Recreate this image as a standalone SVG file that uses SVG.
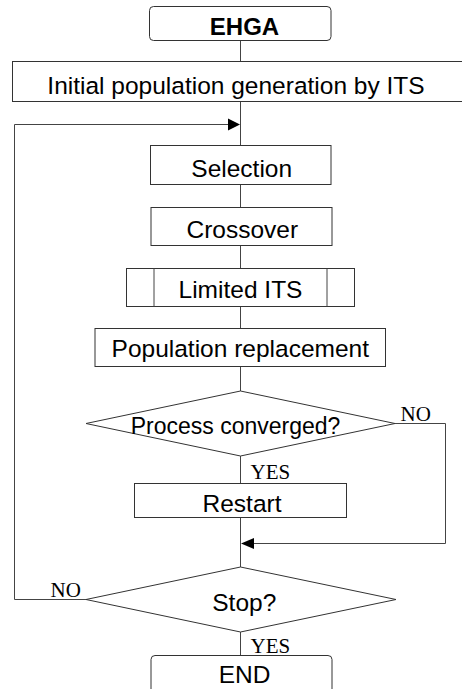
<svg xmlns="http://www.w3.org/2000/svg" width="462" height="689" viewBox="0 0 462 689">
  <style>
    .box { fill: #fff; stroke: #333; stroke-width: 1; }
    .line { fill: none; stroke: #444; stroke-width: 1; }
    .label { font-family: "Liberation Sans", Arial, sans-serif; font-size: 24.5px; fill: #000; text-anchor: middle; }
    .bold { font-weight: bold; font-size: 24px; }
    .branch { font-family: "Liberation Serif", "Times New Roman", serif; font-size: 21px; fill: #000; }
    .head { fill: #000; stroke: none; }
  </style>
  <rect width="462" height="689" fill="#fff"/>

  <!-- connectors -->
  <g id="connectors">
    <path class="line" d="M240.5 40.5 V61 M240.5 101.5 V145.5 M240.5 184.5 V207.5 M240.5 245.5 V268.5 M240.5 306.5 V328.5 M240.5 366.5 V391 M240.5 456 V483.5 M240.5 517.5 V567 M240.5 632 V656"/>
    <!-- loop back from Stop? (NO) -->
    <path class="line" d="M86 599.5 H14.5 V124.5 H230"/>
    <polygon class="head" points="240,124.5 228,118.5 228,130.5"/>
    <!-- skip Restart (NO) -->
    <path class="line" d="M395 423.5 H445.5 V543.5 H252"/>
    <polygon class="head" points="241,543.5 254,538 254,549"/>
  </g>

  <g id="start">
    <rect class="box" x="149.5" y="6.5" width="181.5" height="34" rx="4"/>
    <text class="label bold" x="244.5" y="35">EHGA</text>
  </g>

  <g id="init">
    <rect class="box" x="12.5" y="61.5" width="453" height="40"/>
    <text class="label" x="236" y="94">Initial population generation by ITS</text>
  </g>

  <g id="selection">
    <rect class="box" x="150.5" y="145.5" width="180.5" height="39"/>
    <text class="label" x="241.7" y="176.5">Selection</text>
  </g>

  <g id="crossover">
    <rect class="box" x="151" y="207.5" width="181" height="38"/>
    <text class="label" x="242.3" y="237.5">Crossover</text>
  </g>

  <g id="limited-its">
    <rect class="box" x="126.5" y="268.5" width="228" height="38"/>
    <path class="line" d="M154 268.5 V306.5 M327 268.5 V306.5"/>
    <text class="label" x="240.5" y="298.3">Limited ITS</text>
  </g>

  <g id="replacement">
    <rect class="box" x="95" y="328.5" width="290.5" height="38"/>
    <text class="label" x="240.3" y="356.7">Population replacement</text>
  </g>

  <g id="converged">
    <polygon class="box" points="240.5,391 395,423.5 240.5,456 86,423.5"/>
    <text class="label" x="235.5" y="434" style="font-size:23px">Process converged?</text>
    <text class="branch" x="400.5" y="420.7">NO</text>
    <text class="branch" x="250.5" y="479">YES</text>
  </g>

  <g id="restart">
    <rect class="box" x="134.5" y="483.5" width="212" height="34"/>
    <text class="label" x="242" y="511.7">Restart</text>
  </g>

  <g id="stop">
    <polygon class="box" points="240.5,567 396,599.5 240.5,632 86,599.5"/>
    <text class="label" x="244.3" y="611">Stop?</text>
    <text class="branch" x="50.5" y="596.7">NO</text>
    <text class="branch" x="250.5" y="653.3">YES</text>
  </g>

  <g id="end">
    <rect class="box" x="151" y="655.5" width="181" height="50" rx="4"/>
    <text class="label" x="244.6" y="682.7">END</text>
  </g>
</svg>
